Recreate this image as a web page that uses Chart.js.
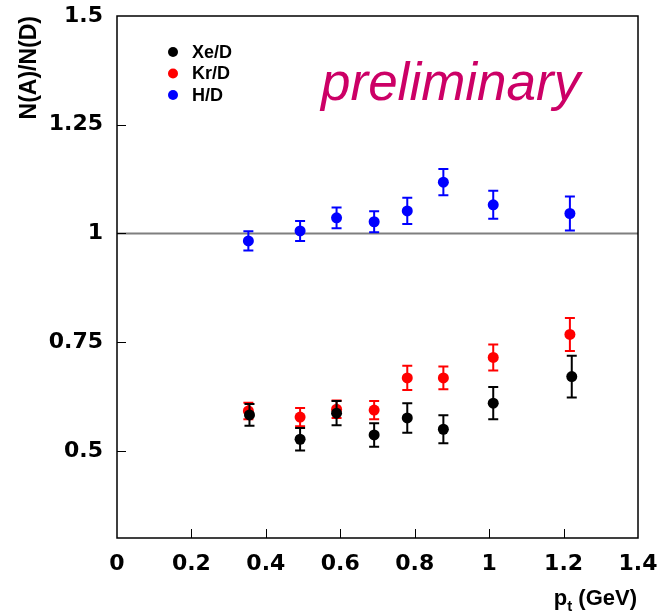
<!DOCTYPE html>
<html lang="en">
<head>
  <meta charset="UTF-8">
  <title>N(A)/N(D) vs pt</title>
  <script src="https://cdn.jsdelivr.net/npm/chart.js"></script>
  <style>
    body {
      margin: 0;
      padding: 0;
      background: #fff;
    }
    .chart-container {
      width: 662px;
      height: 613px;
    }
  </style>
</head>
<body>
  <div class="chart-container">
    <canvas id="chartCanvas" width="662" height="613"></canvas>
  </div>

  <script>
    // data
    const seriesNames = ["Xe/D", "Kr/D", "H/D"];
    const xeX = [0.356, 0.492, 0.590, 0.691, 0.780, 0.877, 1.011, 1.222];
    const xeY = [0.583, 0.527, 0.587, 0.537, 0.576, 0.550, 0.610, 0.671];
    const xeErr = [0.025, 0.026, 0.028, 0.027, 0.034, 0.032, 0.037, 0.048];
    const krX = [0.353, 0.492, 0.590, 0.691, 0.780, 0.877, 1.011, 1.217];
    const krY = [0.592, 0.578, 0.596, 0.594, 0.668, 0.668, 0.715, 0.768];
    const krErr = [0.019, 0.021, 0.020, 0.021, 0.028, 0.026, 0.030, 0.038];
    const hX = [0.353, 0.492, 0.590, 0.691, 0.780, 0.877, 1.011, 1.217];
    const hY = [0.983, 1.006, 1.036, 1.027, 1.052, 1.118, 1.066, 1.046];
    const hErr = [0.022, 0.023, 0.024, 0.024, 0.030, 0.030, 0.032, 0.039];
    const xTicks = [0, 0.2, 0.4, 0.6, 0.8, 1, 1.2, 1.4];
    const yTicks = [0.5, 0.75, 1, 1.25, 1.5];
    const refLine = 1;

    const FONT = "'Liberation Sans', Arial, Helvetica, sans-serif";
    const TICKFONT = "'DejaVu Sans', 'Liberation Sans', sans-serif";

    function points(xs, ys, errs) {
      return xs.map((x, i) => ({ x: x, y: ys[i], err: errs[i] }));
    }

    // error bars with small caps, drawn right before each dataset's markers
    const errorBars = {
      id: "errorBars",
      beforeDatasetDraw(chart, args) {
        const ds = chart.data.datasets[args.index];
        const xs = chart.scales.x, ys = chart.scales.y;
        const c = chart.ctx;
        c.save();
        c.strokeStyle = ds.borderColor;
        c.lineWidth = 2;
        ds.data.forEach(p => {
          const px = xs.getPixelForValue(p.x);
          const top = ys.getPixelForValue(p.y + p.err);
          const bot = ys.getPixelForValue(p.y - p.err);
          c.beginPath();
          c.moveTo(px, top); c.lineTo(px, bot);
          c.moveTo(px - 5, top); c.lineTo(px + 5, top);
          c.moveTo(px - 5, bot); c.lineTo(px + 5, bot);
          c.stroke();
        });
        c.restore();
      }
    };

    // ROOT-like frame, inner ticks, y=1 line, legend and labels
    const decor = {
      id: "decor",
      beforeDatasetsDraw(chart) {
        const c = chart.ctx, a = chart.chartArea;
        const ys = chart.scales.y;
        const py = ys.getPixelForValue(refLine);
        c.save();
        c.strokeStyle = "#7f7f7f";
        c.lineWidth = 2;
        c.beginPath();
        c.moveTo(a.left, py); c.lineTo(a.right, py);
        c.stroke();
        c.restore();
      },
      afterDraw(chart) {
        const c = chart.ctx, a = chart.chartArea;
        const xs = chart.scales.x, ys = chart.scales.y;
        c.save();
        c.strokeStyle = "#000";
        c.lineWidth = 1.5;
        c.strokeRect(a.left, a.top, a.right - a.left, a.bottom - a.top);
        c.lineWidth = 1;
        c.beginPath();
        xTicks.slice(1, -1).forEach(v => {
          const px = Math.round(xs.getPixelForValue(v)) + 0.5;
          c.moveTo(px, a.bottom); c.lineTo(px, a.bottom - 9);
        });
        yTicks.slice(0, -1).forEach(v => {
          const py = Math.round(ys.getPixelForValue(v)) + 0.5;
          c.moveTo(a.left, py); c.lineTo(a.left + 9, py);
        });
        c.stroke();

        // legend
        c.font = "bold 18px " + FONT;
        c.textBaseline = "middle";
        chart.data.datasets.forEach((ds, i) => {
          const ly = 52 + i * 21.5;
          c.fillStyle = ds.backgroundColor;
          c.beginPath();
          c.arc(173, ly, 5, 0, Math.PI * 2);
          c.fill();
          c.fillStyle = "#000";
          c.fillText(ds.label, 192, ly + 1);
        });

        // preliminary stamp
        c.font = "italic 53px " + FONT;
        c.fillStyle = "#cc0066";
        c.textBaseline = "alphabetic";
        c.textAlign = "left";
        c.fillText("preliminary", 321, 100);

        // x title with subscript
        c.fillStyle = "#000";
        c.textAlign = "right";
        c.font = "bold 22px " + FONT;
        const rest = " (GeV)";
        const restW = c.measureText(rest).width;
        c.fillText(rest, a.right - 1, 605);
        c.font = "bold 15px " + FONT;
        const tW = c.measureText("t").width;
        c.fillText("t", a.right - 1 - restW, 611);
        c.font = "bold 22px " + FONT;
        c.fillText("p", a.right - 1 - restW - tW, 605);
        c.restore();
      }
    };

    const ctx = document.getElementById("chartCanvas").getContext("2d");
    const chart = new Chart(ctx, {
      type: "scatter",
      data: {
        datasets: [
          { label: seriesNames[0], data: points(xeX, xeY, xeErr), backgroundColor: "#000000", borderColor: "#000000", order: 0 },
          { label: seriesNames[1], data: points(krX, krY, krErr), backgroundColor: "#ff0000", borderColor: "#ff0000", order: 1 },
          { label: seriesNames[2], data: points(hX, hY, hErr), backgroundColor: "#0000ff", borderColor: "#0000ff", order: 2 }
        ]
      },
      options: {
        responsive: false,
        animation: false,
        devicePixelRatio: 1,
        layout: { padding: { top: 16, right: 24, left: 0, bottom: 0 } },
        elements: {
          point: { radius: 5.5, borderWidth: 0, pointStyle: "circle" }
        },
        plugins: {
          legend: { display: false },
          tooltip: { enabled: false }
        },
        scales: {
          x: {
            type: "linear",
            min: 0,
            max: 1.4,
            afterBuildTicks: s => { s.ticks = xTicks.map(v => ({ value: v })); },
            afterFit: s => { s.height = 75; s.paddingLeft = 0; s.paddingRight = 0; },
            grid: { display: false, drawTicks: false },
            border: { display: false },
            ticks: {
              padding: 13,
              color: "#000",
              font: { family: TICKFONT, size: 22, weight: "bold" },
              callback: v => String(v)
            }
          },
          y: {
            type: "linear",
            min: 0.3,
            max: 1.5,
            afterBuildTicks: s => { s.ticks = yTicks.map(v => ({ value: v })); },
            afterFit: s => { s.width = 117; s.paddingTop = 0; s.paddingBottom = 0; },
            grid: { display: false, drawTicks: false },
            border: { display: false },
            title: {
              display: true,
              text: "N(A)/N(D)",
              align: "end",
              color: "#000",
              font: { family: FONT, size: 23, weight: "bold" },
              padding: { top: 16, bottom: 0 }
            },
            ticks: {
              padding: 14,
              color: "#000",
              font: { family: TICKFONT, size: 22, weight: "bold" },
              callback: v => String(v)
            }
          }
        }
      },
      plugins: [errorBars, decor]
    });
  </script>
</body>
</html>
